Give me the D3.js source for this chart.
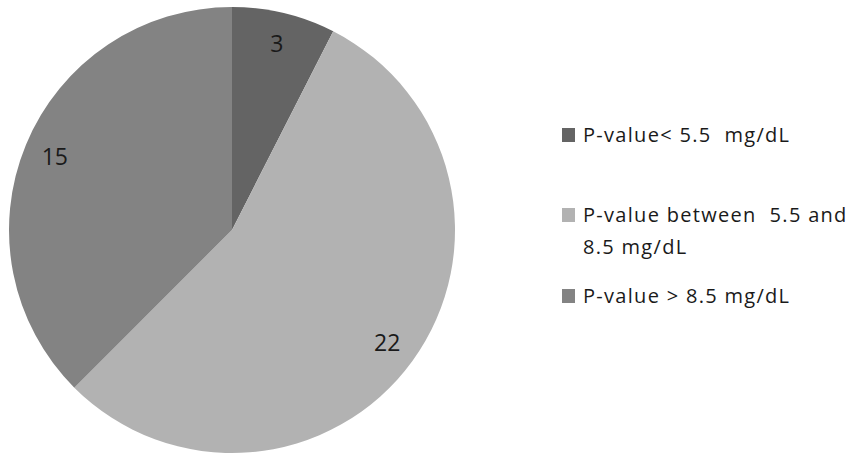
<!DOCTYPE html>
<html>
<head>
<meta charset="utf-8">
<script src="https://cdn.jsdelivr.net/npm/d3@7"></script>
<style>
  body { margin: 0; background: #fff; }
  svg text { font-family: "Open Sans", sans-serif; white-space: pre; }
</style>
</head>
<body>
<svg id="chart" width="851" height="454"></svg>
<script>
// chart data
const categories = ["P-value < 5.5  mg/dL", "P-value between 5.5 and 8.5 mg/dL", "P-value > 8.5 mg/dL"];
const values = [3, 22, 15];
const legendLines = [["P-value< 5.5  mg/dL"], ["P-value between  5.5 and", "8.5 mg/dL"], ["P-value > 8.5 mg/dL"]];

const colors = ["#646464", "#b2b2b2", "#838383"];

const svg = d3.select("#chart");
const cx = 232, cy = 230, r = 223;

const pie = d3.pie().sort(null).value(d => d);
const arcs = pie(values);

const g = svg.append("g").attr("transform", `translate(${cx},${cy})`);

g.selectAll("path.slice")
    .data(arcs)
    .enter().append("path")
    .attr("class", "slice")
    .attr("d", d3.arc().innerRadius(0).outerRadius(r))
    .attr("fill", (d, i) => colors[i]);

// value labels, placed along the slice middle
const labelArc = d3.arc().innerRadius(r * 0.86).outerRadius(r * 0.86);
g.selectAll("text.val")
    .data(arcs)
    .enter().append("text")
    .attr("class", "val")
    .attr("transform", d => `translate(${labelArc.centroid(d)})`)
    .attr("text-anchor", "middle")
    .attr("dy", "0.36em")
    .attr("font-size", 23)
    .attr("fill", "#1a1a1a")
    .text(d => d.data);

// legend
const legendY = [142, 222, 303];
const legend = svg.selectAll("g.legend")
    .data(categories)
    .enter().append("g")
    .attr("class", "legend")
    .attr("transform", (d, i) => `translate(562,${legendY[i]})`);

legend.append("rect")
    .attr("x", 0).attr("y", -14)
    .attr("width", 13).attr("height", 14)
    .attr("fill", (d, i) => colors[i]);

legend.each(function(d, i) {
    const t = d3.select(this).append("text")
        .attr("x", 21)
        .attr("y", 0)
        .attr("font-size", 20)
        .attr("letter-spacing", 1.3)
        .attr("fill", "#1a1a1a");
    legendLines[i].forEach((line, j) => {
        t.append("tspan").attr("x", 21).attr("dy", j === 0 ? 0 : 32).text(line);
    });
});
</script>
</body>
</html>
